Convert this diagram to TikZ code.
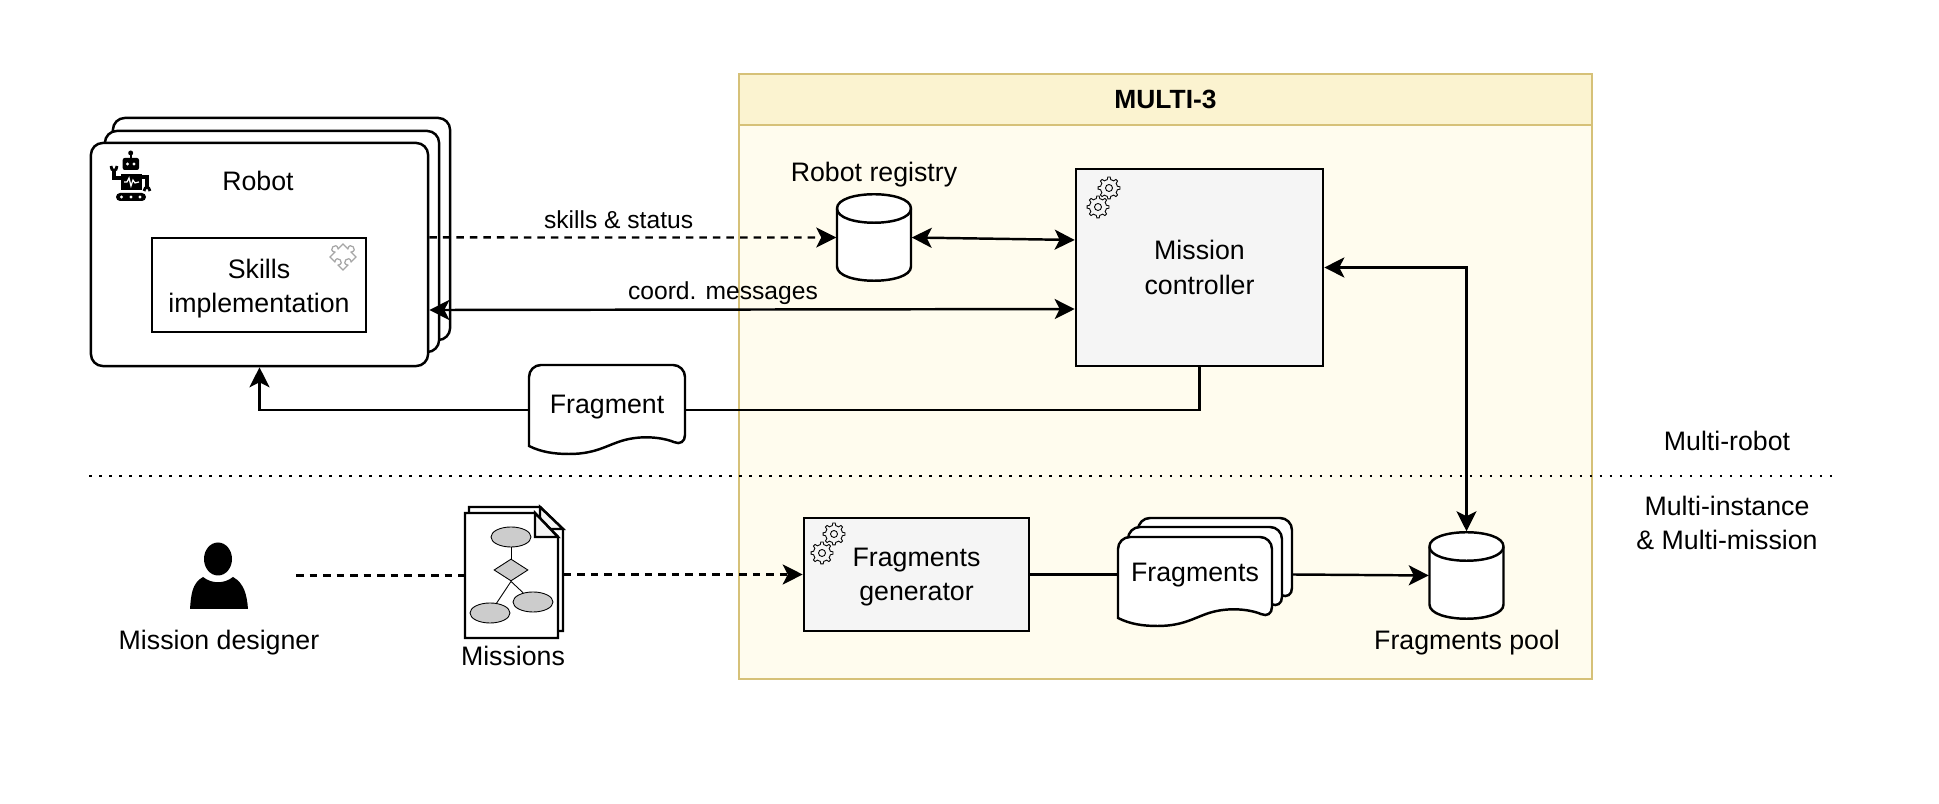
\documentclass[tikz,border=0pt]{standalone}
\usepackage{fontspec}
\setmainfont{Liberation Sans}
\usetikzlibrary{arrows.meta,shapes.geometric}
\definecolor{mframe}{RGB}{214,193,120}
\definecolor{mbody}{RGB}{255,252,238}
\definecolor{mhead}{RGB}{251,243,208}
\definecolor{mproc}{RGB}{245,245,245}
\definecolor{mshape}{RGB}{204,204,204}
\tikzset{
    txt/.style={inner sep=0pt, align=center, font=\fontsize{7.6}{9.7}\selectfont},
    smalltxt/.style={inner sep=0pt, font=\fontsize{7}{9}\selectfont},
    box/.style={rectangle, draw, line width=0.7pt, inner sep=0pt},
    ghost/.style={rectangle, inner sep=0pt},
    dashline/.style={dash pattern=on 0.075cm off 0.06cm},
    conn/.style={line width=0.7pt, -{Stealth[length=0.2cm,width=0.2cm,inset=0.05cm]}},
    biconn/.style={line width=0.7pt, {Stealth[length=0.2cm,width=0.2cm,inset=0.05cm]}-{Stealth[length=0.2cm,width=0.2cm,inset=0.05cm]}},
    plainconn/.style={line width=0.7pt},
    gearline/.style={line width=0.25pt},
    erline/.style={draw, fill=mshape, line width=0.25pt},
}
\newcommand{\gearicon}[2]{
    \begin{scope}[shift={(#1,#2)}]
        \draw[gearline] (0,0) circle (3.5);
        \foreach \a in {0,45,...,315}
            \draw[gearline] (\a-22.5:8.5) -- (\a-12:8.5) -- (\a-6:11) -- (\a+6:11) -- (\a+12:8.5) -- (\a+22.5:8.5);
    \end{scope}
}
\newcommand{\wavedoc}[3]{
    \begin{scope}[shift={(#1,#2)}, xscale=#3]
        \draw[line width=0.7pt, fill=white, rounded corners=0.12cm] (0,81) -- (0,0) -- (156,0) -- (156,82) [sharp corners]
            .. controls (138,74) and (120,70) .. (100,74) .. controls (80,78) and (70,89) .. (40,89) .. controls (25,89) and (12,87) .. cycle;
    \end{scope}
}
\newcommand{\dbicon}[2]{
    \begin{scope}[shift={(#1,#2)}]
        \draw[line width=0.7pt, fill=white] (-37,-29) -- (-37,29) .. controls (-37,48) and (37,48) .. (37,29) -- (37,-29) .. controls (37,-48) and (-37,-48) .. cycle;
        \draw[line width=0.7pt] (-37,-29) .. controls (-37,-10) and (37,-10) .. (37,-29);
    \end{scope}
}
\begin{document}
\begin{tikzpicture}[x=0.01cm, y=-0.01cm]
    \useasboundingbox (0,0) rectangle (1939,804);

    \node[box, draw=mframe, fill=mbody, minimum width=8.52cm, minimum height=6.05cm] (multi) at (1165.5,376.5) {};
    \node[box, draw=mframe, fill=mhead, minimum width=8.52cm, minimum height=0.51cm] (multihead) at (1165.5,99.5) {};
    \node[txt, font=\fontsize{7.5}{9}\selectfont\bfseries] (multititle) at (multihead) {MULTI-3};

    \coordinate (dotsleft) at (89,476);
    \coordinate (dotsright) at (1834,476);
    \draw[line width=0.8pt, dash pattern=on 0.025cm off 0.075cm] (dotsleft) -- (dotsright);

    \node[box, fill=white, rounded corners=0.12cm, minimum width=3.37cm, minimum height=2.22cm] (robot3) at (281.5,229) {};
    \node[box, fill=white, rounded corners=0.12cm, minimum width=3.34cm, minimum height=2.21cm] (robot2) at (272,241.5) {};
    \node[box, fill=white, rounded corners=0.12cm, minimum width=3.37cm, minimum height=2.23cm] (robot) at (259.5,254.5) {};
    \node[txt] (robottitle) at (258,181) {Robot};
    \node[box, minimum width=2.14cm, minimum height=0.94cm, label={[txt, yshift=-0.035cm]center:Skills\\implementation}] (skills) at (259,285) {};

    % robot icon
    \fill (130.7,153) circle (2.5);
    \draw[line width=0.6pt] (130.7,153) -- (130.7,160);
    \fill[rounded corners=0.02cm] (122.7,158) rectangle (139,170);
    \fill[white] (127.5,164) circle (1.6) (134,164) circle (1.6);
    \fill (121,174) rectangle (141.7,190);
    \draw[white, line width=0.35pt] (124,182) -- (127,182) -- (129,178) -- (131,186) -- (133,180) -- (135,183) -- (139,182);
    \draw[line width=0.9pt] (121,178) -- (114,178) -- (114,170);
    \draw[line width=0.8pt] (111,166) .. controls (111,172) and (117,172) .. (117,166);
    \draw[line width=0.9pt] (141.7,177) -- (147,177) -- (147,187);
    \draw[line width=0.8pt] (144,191) .. controls (145,186) and (149,186) .. (150,191);
    \fill[rounded corners=0.04cm] (116,193) rectangle (146,201);
    \fill[white] (121.5,197) circle (1.6) (131,197) circle (1.6) (140,197) circle (1.6);

    % puzzle icon
    \begin{scope}[shift={(343,257)}, rotate=45, scale=1.15]
        \draw[gray!70, line width=0.35pt, fill=white] (-8,-8) -- (-2,-8) .. controls (-6,-14) and (6,-14) .. (2,-8) -- (8,-8)
            -- (8,-2) .. controls (14,-6) and (14,6) .. (8,2) -- (8,8)
            -- (2,8) .. controls (6,2) and (-6,2) .. (-2,8) -- (-8,8)
            -- (-8,2) .. controls (-2,6) and (-2,-6) .. (-8,-2) -- cycle;
    \end{scope}

    \dbicon{874}{237.5}
    \node[ghost, minimum width=0.74cm, minimum height=0.87cm] (registry) at (874,237.5) {};
    \node[txt] (registrytitle) at (874,174.5) {Robot registry};
    \node[box, fill=mproc, minimum width=2.47cm, minimum height=1.97cm, label={[txt]center:Mission\\controller}] (controller) at (1199.5,267.5) {};
    \gearicon{1109}{188}
    \gearicon{1098}{207}

    \wavedoc{529}{365}{1}
    \node[ghost, minimum width=1.56cm, minimum height=0.9cm, label={[txt, yshift=0.025cm]center:Fragment}] (fragment) at (607,410) {};

    \node[box, fill=mproc, minimum width=2.25cm, minimum height=1.13cm, label={[txt, yshift=-0.025cm]center:Fragments\\generator}] (generator) at (916.5,574.5) {};
    \gearicon{834}{534}
    \gearicon{822}{553}

    \wavedoc{1138}{518}{0.987}
    \wavedoc{1128}{527}{0.987}
    \wavedoc{1118}{537}{0.987}
    \node[ghost, minimum width=1.54cm, minimum height=0.9cm] (fragstack) at (1215,574.5) {};
    \node[ghost, minimum width=1.54cm, minimum height=0.9cm, label={[txt, yshift=-0.01cm]center:Fragments}] (fragments) at (1195,574.5) {};

    \dbicon{1466.5}{575.5}
    \node[ghost, minimum width=0.74cm, minimum height=0.87cm] (pool) at (1466.5,575.5) {};
    \node[txt] (pooltitle) at (1467,642.5) {Fragments pool};

    % mission designer
    \fill (218,559) ellipse (14 and 16.5);
    \fill (190,609) .. controls (191,595) and (192,583) .. (203,577) .. controls (212,584) and (224,584) .. (233,577) .. controls (244,583) and (247,595) .. (248,609) -- cycle;
    \node[txt] (designer) at (219,643) {Mission designer};
    \coordinate (designerout) at (296,575.5);

    % missions
    \draw[line width=0.7pt, fill=white] (469,507) -- (540,507) -- (563,529) -- (563,631) -- (469,631) -- cycle;
    \draw[line width=0.7pt, fill=mproc] (540,507) -- (540,529) -- (563,529) -- cycle;
    \draw[line width=0.7pt, fill=white] (465,513) -- (535,513) -- (558,537) -- (558,638) -- (465,638) -- cycle;
    \draw[line width=0.7pt, fill=mproc] (535,513) -- (535,537) -- (558,537) -- cycle;
    \node[ghost, minimum width=0.93cm, minimum height=1.25cm] (missions) at (511.5,575.5) {};
    \node[ghost, minimum width=0.94cm, minimum height=1.24cm] (missionsback) at (516,569) {};
    \node[ellipse, erline, inner sep=0pt, minimum width=0.4cm, minimum height=0.2cm] (ertop) at (511,537) {};
    \node[diamond, erline, inner sep=0pt, minimum width=0.34cm, minimum height=0.22cm] (erchoice) at (511,570) {};
    \node[ellipse, erline, inner sep=0pt, minimum width=0.4cm, minimum height=0.2cm] (erright) at (533,602) {};
    \node[ellipse, erline, inner sep=0pt, minimum width=0.4cm, minimum height=0.2cm] (erleft) at (490,613) {};
    \draw[line width=0.25pt] (ertop) -- (erchoice);
    \draw[line width=0.25pt] (erchoice.south) -- (erright);
    \draw[line width=0.25pt] (erchoice.south) -- (erleft);
    \node[txt] (missionstitle) at (513,656) {Missions};

    \node[txt] (multirobot) at (1727,441) {Multi-robot};
    \node[txt] (multiinstance) at (1727,523) {Multi-instance\\\& Multi-mission};

    \draw[conn, dashline] ([yshift=0.17cm]robot.east) -- (registry.west) node[pos=.465, above=0.08cm, smalltxt] {skills \& status};
    \draw[biconn] (registry.east) -- ([yshift=0.275cm]controller.west);
    \draw[biconn] ([yshift=-0.555cm]robot.east) -- ([yshift=-0.415cm]controller.west) node[pos=.455, above=0.035cm, smalltxt] {coord. messages};
    \draw[plainconn] (controller.south) |- (fragment.east);
    \draw[conn] (fragment.west) -| (robot.south);
    \draw[biconn] (controller.east) -| (pool.north);
    \draw[plainconn, dashline] (designerout) -- (missions.west);
    \draw[conn, dashline] (missionsback.east |- generator.west) -- (generator.west);
    \draw[plainconn] (generator.east) -- (fragments.west);
    \draw[conn] (fragstack.east) -- (pool.west);
\end{tikzpicture}
\end{document}
